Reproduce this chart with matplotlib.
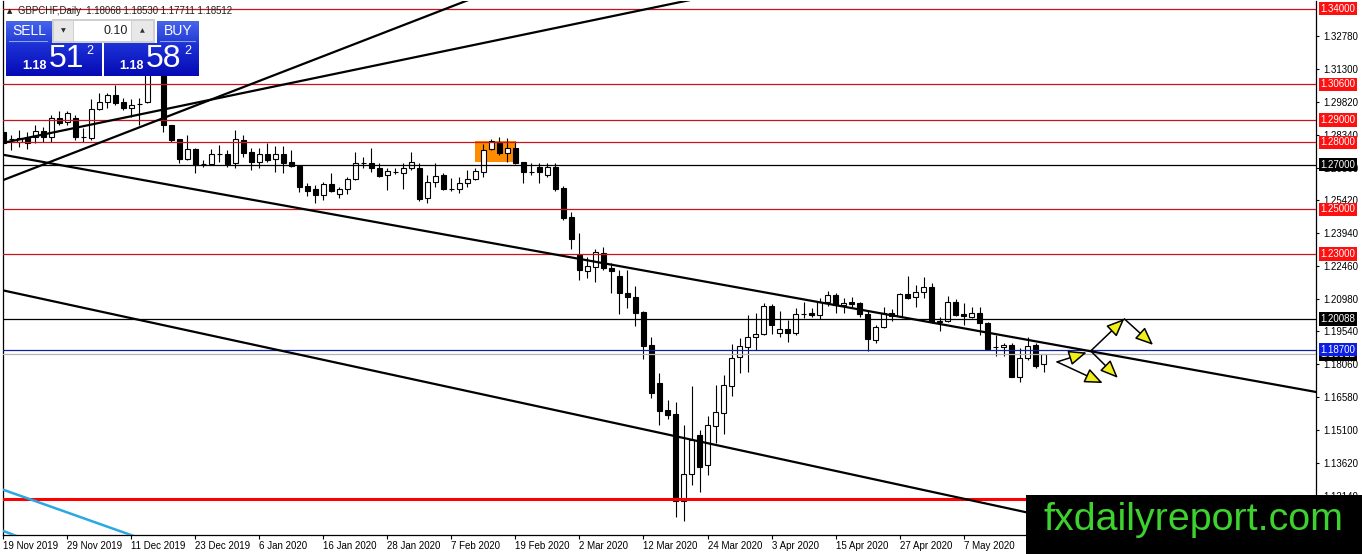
import matplotlib
matplotlib.use('Agg')
import matplotlib.pyplot as plt
import numpy as np
from matplotlib.patches import Rectangle, FancyArrowPatch

plt.rcParams['font.family'] = ['Liberation Sans', 'DejaVu Sans']

# ---------------- data ----------------
opens = [1.2847, 1.2817, 1.2802, 1.2820, 1.2824, 1.2851, 1.2824, 1.2910, 1.2892, 1.2910,
         1.2826, 1.2820, 1.2950, 1.2981, 1.3013, 1.2981, 1.2955, 1.2972, 1.2981, 1.3170,
         1.3130, 1.2878, 1.2815, 1.2726, 1.2771, 1.2702, 1.2703, 1.2746, 1.2748, 1.2708,
         1.2811, 1.2757, 1.2712, 1.2748, 1.2726, 1.2748, 1.2712, 1.2694, 1.2605, 1.2591,
         1.2564, 1.2614, 1.2569, 1.2591, 1.2636, 1.2706, 1.2708, 1.2685, 1.2654, 1.2668,
         1.2663, 1.2685, 1.2685, 1.2551, 1.2623, 1.2654, 1.2590, 1.2591, 1.2618, 1.2636,
         1.2668, 1.2771, 1.2798, 1.2753, 1.2775, 1.2712, 1.2669, 1.2690, 1.2654, 1.2690,
         1.2596, 1.2466, 1.2295, 1.2224, 1.2242, 1.2304, 1.2237, 1.2201, 1.2125, 1.2107,
         1.2040, 1.1892, 1.1721, 1.1600, 1.1582, 1.1192, 1.1313, 1.1488, 1.1354, 1.1529,
         1.1587, 1.1708, 1.1838, 1.1883, 1.1928, 1.1941, 1.2067, 1.1946, 1.1963, 1.1946,
         1.2030, 1.2035, 1.2026, 1.2085, 1.2116, 1.2071, 1.2085, 1.2080, 1.2031, 1.1914,
         1.1972, 1.2035, 1.2022, 1.2120, 1.2107, 1.2129, 1.2152, 1.1997, 1.1999, 1.2085,
         1.2031, 1.2017, 1.2035, 1.1990, 1.1882, 1.1883, 1.1892, 1.1748, 1.1833, 1.1892,
         1.18068]
highs = [1.2869, 1.2833, 1.2856, 1.2847, 1.2878, 1.2869, 1.2923, 1.2941, 1.2941, 1.2923,
         1.2865, 1.2995, 1.3022, 1.3022, 1.3058, 1.2999, 1.2995, 1.2999, 1.3205, 1.3215,
         1.3150, 1.2880, 1.2817, 1.2833, 1.2773, 1.2721, 1.2771, 1.2789, 1.2766, 1.2856,
         1.2833, 1.2775, 1.2775, 1.2798, 1.2784, 1.2784, 1.2766, 1.2696, 1.2618, 1.2609,
         1.2623, 1.2663, 1.2600, 1.2645, 1.2757, 1.2735, 1.2775, 1.2708, 1.2685, 1.2685,
         1.2708, 1.2757, 1.2708, 1.2654, 1.2708, 1.2663, 1.2641, 1.2645, 1.2677, 1.2685,
         1.2793, 1.2815, 1.2824, 1.2820, 1.2807, 1.2714, 1.2708, 1.2708, 1.2708, 1.2708,
         1.2605, 1.2488, 1.2394, 1.2286, 1.2322, 1.2331, 1.2259, 1.2228, 1.2228, 1.2156,
         1.2044, 1.1928, 1.1766, 1.1645, 1.1636, 1.1533, 1.1708, 1.1511, 1.1573, 1.1712,
         1.1757, 1.1896, 1.1923, 1.2026, 1.2035, 1.2080, 1.2076, 1.2044, 1.2004, 1.2058,
         1.2085, 1.2058, 1.2103, 1.2134, 1.2125, 1.2103, 1.2107, 1.2085, 1.2049, 1.1981,
         1.2062, 1.2053, 1.2125, 1.2201, 1.2161, 1.2197, 1.2170, 1.2017, 1.2111, 1.2098,
         1.2080, 1.2062, 1.2062, 1.1995, 1.1937, 1.1901, 1.1901, 1.1878, 1.1928, 1.1901,
         1.18530]
lows = [1.2789, 1.2766, 1.2780, 1.2771, 1.2798, 1.2802, 1.2802, 1.2878, 1.2878, 1.2811,
        1.2802, 1.2811, 1.2946, 1.2955, 1.2968, 1.2946, 1.2914, 1.2878, 1.2975, 1.3110,
        1.2847, 1.2802, 1.2708, 1.2721, 1.2663, 1.2690, 1.2699, 1.2712, 1.2690, 1.2685,
        1.2735, 1.2677, 1.2685, 1.2712, 1.2668, 1.2663, 1.2690, 1.2578, 1.2560, 1.2529,
        1.2542, 1.2578, 1.2551, 1.2569, 1.2632, 1.2685, 1.2668, 1.2645, 1.2587, 1.2659,
        1.2591, 1.2677, 1.2538, 1.2529, 1.2600, 1.2587, 1.2582, 1.2573, 1.2600, 1.2632,
        1.2645, 1.2766, 1.2744, 1.2712, 1.2703, 1.2618, 1.2654, 1.2618, 1.2645, 1.2582,
        1.2452, 1.2322, 1.2183, 1.2192, 1.2174, 1.2228, 1.2125, 1.2031, 1.2058, 1.1977,
        1.1829, 1.1654, 1.1533, 1.1560, 1.1121, 1.1103, 1.1264, 1.1233, 1.1309, 1.1452,
        1.1493, 1.1663, 1.1766, 1.1771, 1.1869, 1.1938, 1.1941, 1.1928, 1.1905, 1.1937,
        1.2013, 1.2017, 1.2008, 1.2067, 1.2035, 1.2035, 1.2062, 1.2017, 1.1865, 1.1901,
        1.1968, 1.1999, 1.2017, 1.2098, 1.2062, 1.2103, 1.1990, 1.1955, 1.1995, 1.2022,
        1.1981, 1.2013, 1.1937, 1.1869, 1.1842, 1.1842, 1.1748, 1.1726, 1.1825, 1.1789,
        1.17711]
closes = [1.2798, 1.2815, 1.2820, 1.2798, 1.2851, 1.2824, 1.2910, 1.2887, 1.2932, 1.2824,
          1.2824, 1.2950, 1.2981, 1.3013, 1.2977, 1.2955, 1.2968, 1.2973, 1.3160, 1.3135,
          1.2878, 1.2811, 1.2726, 1.2771, 1.2699, 1.2704, 1.2748, 1.2748, 1.2703, 1.2815,
          1.2753, 1.2712, 1.2748, 1.2721, 1.2748, 1.2708, 1.2694, 1.2600, 1.2582, 1.2564,
          1.2614, 1.2582, 1.2591, 1.2636, 1.2708, 1.2708, 1.2685, 1.2650, 1.2672, 1.2667,
          1.2685, 1.2712, 1.2546, 1.2623, 1.2650, 1.2591, 1.2591, 1.2618, 1.2636, 1.2672,
          1.2766, 1.2807, 1.2753, 1.2775, 1.2708, 1.2668, 1.2668, 1.2668, 1.2690, 1.2591,
          1.2461, 1.2367, 1.2228, 1.2246, 1.2309, 1.2237, 1.2224, 1.2125, 1.2107, 1.2035,
          1.1887, 1.1677, 1.1596, 1.1578, 1.1192, 1.1313, 1.1466, 1.1345, 1.1533, 1.1591,
          1.1712, 1.1833, 1.1887, 1.1928, 1.1941, 1.2067, 1.1981, 1.1963, 1.1946, 1.2031,
          1.2031, 1.2026, 1.2085, 1.2116, 1.2071, 1.2080, 1.2076, 1.2031, 1.1919, 1.1972,
          1.2035, 1.2022, 1.2120, 1.2103, 1.2129, 1.2152, 1.1995, 1.1999, 1.2085, 1.2026,
          1.2022, 1.2035, 1.1990, 1.1874, 1.1883, 1.1892, 1.1748, 1.1833, 1.1887, 1.1798,
          1.18512]

date_tick_bars = [0, 8, 16, 24, 32, 40, 48, 56, 64, 72, 80, 88, 96, 104, 112, 120]
date_tick_labels = ['19 Nov 2019', '29 Nov 2019', '11 Dec 2019', '23 Dec 2019', '6 Jan 2020',
                    '16 Jan 2020', '28 Jan 2020', '7 Feb 2020', '19 Feb 2020', '2 Mar 2020',
                    '12 Mar 2020', '24 Mar 2020', '3 Apr 2020', '15 Apr 2020', '27 Apr 2020',
                    '7 May 2020']
price_ticks = [1.12140, 1.13620, 1.15100, 1.16580, 1.18060, 1.19540, 1.20980, 1.22460,
               1.23940, 1.25420, 1.26860, 1.28340, 1.29820, 1.31300, 1.32780]

red_levels = [1.34000, 1.30600, 1.29000, 1.28000, 1.25000, 1.23000]
black_levels = [1.27000, 1.20088]
blue_level = 1.18700
bid_level = 1.18512
support_level = 1.12000

# trendlines: (bar x pair, price pair)
trend_steep = ([-1, 60], [1.2618, 1.3465])
trend_rise = ([-1, 86], [1.2791, 1.3440])
channel_upper = ([-1, 165], [1.2751, 1.1675])
channel_lower = ([-1, 140], [1.2144, 1.1047])
cyan_line1 = ([-1, 17], [1.1255, 1.1026])
cyan_line2 = ([-1, 1.5], [1.1071, 1.1037])

box_bars = [58.9, 63.9]
box_prices = [1.2712, 1.2806]

# arrows (start bar, start price, end bar, end price)
arrow_paths = [
    (131.7, 1.1816, 135.4, 1.1858),
    (131.7, 1.1816, 137.4, 1.1721),
    (135.9, 1.1865, 140.1, 1.2009),
    (140.1, 1.2009, 143.7, 1.1892),
    (135.9, 1.1865, 139.3, 1.1744),
]

header = 'GBPCHF,Daily  1.18068 1.18530 1.17711 1.18512'

# ---------------- figure ----------------
W, H = 1362, 554
fig = plt.figure(figsize=(W / 100, H / 100), dpi=100)
fig.patch.set_facecolor('white')
ax = fig.add_axes([3 / W, (H - 535) / H, 1313 / W, 534 / H])
ax.set_facecolor('white')
ax.set_xlim(-0.06, 164.06)
ax.set_ylim(1.10397, 1.34343)

# orange box
ax.add_patch(Rectangle((box_bars[0], box_prices[0]), box_bars[1] - box_bars[0],
                       box_prices[1] - box_prices[0], fc='#ff8c00', ec='none', zorder=1))

# candles
n = len(opens)
xs = np.arange(n)
o = np.array(opens); h = np.array(highs); l = np.array(lows); c = np.array(closes)
ax.vlines(xs, l, h, color='black', lw=0.8, zorder=2)
up = c >= o
bottoms = np.minimum(o, c)
heights = np.maximum(np.abs(c - o), 0.00002)
ax.bar(xs[up], heights[up], bottom=bottoms[up], width=0.6, color='white',
       edgecolor='black', linewidth=0.8, zorder=2.5)
ax.bar(xs[~up], heights[~up], bottom=bottoms[~up], width=0.6, color='black',
       edgecolor='black', linewidth=0.8, zorder=2.5)

# horizontal levels
for lv in red_levels:
    ax.axhline(lv, color='#c8141e', lw=0.9, zorder=3)
for lv in black_levels:
    ax.axhline(lv, color='black', lw=0.9, zorder=3)
ax.axhline(bid_level, color='#b4b4b4', lw=0.9, zorder=3)
ax.axhline(blue_level, color='#1020a0', lw=0.9, zorder=3)
ax.axhline(support_level, color='#ff0000', lw=2.2, zorder=3)

# trendlines
for tl in [trend_steep, trend_rise, channel_upper, channel_lower]:
    ax.plot(tl[0], tl[1], color='black', lw=1.6, zorder=3.5, solid_capstyle='butt')
for tl in [cyan_line1, cyan_line2]:
    ax.plot(tl[0], tl[1], color='#2aa8e2', lw=1.8, zorder=3.5)

# arrows
for (x0, y0, x1, y1) in arrow_paths:
    ar = FancyArrowPatch((x0, y0), (x1, y1), arrowstyle='-|>,head_length=1.0,head_width=0.42',
                         mutation_scale=11, fc='#f2ee1a', ec='black', lw=1.1,
                         shrinkA=0, shrinkB=0, zorder=4)
    ax.add_patch(ar)

# axes styling
ax.spines['top'].set_visible(False)
for s in ['left', 'bottom', 'right']:
    ax.spines[s].set_color('black')
    ax.spines[s].set_linewidth(0.9)
ax.yaxis.tick_right()
ax.set_yticks(price_ticks)
ax.set_yticklabels([f'{t:.5f}' for t in price_ticks])
ax.tick_params(axis='y', length=2.5, width=0.8, pad=2.5, labelsize=7, colors='black')
ax.set_xticks(date_tick_bars)
ax.set_xticklabels(date_tick_labels)
for lbl in ax.get_xticklabels():
    lbl.set_ha('left')
ax.tick_params(axis='x', length=3, width=0.8, pad=1.2, labelsize=7, colors='black')


def level_label(price, text, fc):
    ax.annotate(text, xy=(1, price), xycoords=('axes fraction', 'data'), xytext=(3.0, 0),
                textcoords='offset points', ha='left', va='center', fontsize=7, color='white',
                bbox=dict(boxstyle='square,pad=0.17', fc=fc, ec='none'),
                annotation_clip=False, zorder=6)


for lv in red_levels:
    level_label(lv, f'{lv:.5f}', '#ff1010')
for lv in black_levels:
    level_label(lv, f'{lv:.5f}', 'black')
level_label(bid_level, f'{bid_level:.5f}', 'black')
level_label(blue_level, f'{blue_level:.5f}', '#0a1ee6')


# ---------------- overlays in pixel coordinates ----------------
def px_rect(x0, y0, x1, y1, **kw):
    fig.add_artist(Rectangle((x0 / W, 1 - y1 / H), (x1 - x0) / W, (y1 - y0) / H,
                             transform=fig.transFigure, **kw))


def px_text(x, y, s, **kw):
    fig.text(x / W, 1 - y / H, s, **kw)


def gradient(x0, y0, x1, y1, top, bottom):
    hh, ww = y1 - y0, x1 - x0
    t = np.linspace(0, 1, hh)[:, None, None]
    top = np.array(top) / 255.0
    bottom = np.array(bottom) / 255.0
    arr = top[None, None, :] * (1 - t) + bottom[None, None, :] * t
    arr = np.repeat(arr, ww, axis=1)
    fig.figimage(arr, xo=x0, yo=H - y1, origin='upper', zorder=8)


# header
px_text(7, 11, '\u25b2', fontsize=5, color='#202020', va='center', ha='left',
        family=['DejaVu Sans'], zorder=9)
px_text(18, 11, header, fontsize=6.9, color='#202020', va='center', ha='left', zorder=9)

# sell / buy panel
gradient(6, 21, 52, 43, (70, 100, 235), (35, 60, 215))
gradient(6, 43, 102, 76, (30, 50, 215), (5, 10, 180))
gradient(157, 21, 199, 43, (70, 100, 235), (35, 60, 215))
gradient(104, 43, 199, 76, (30, 50, 215), (5, 10, 180))
px_rect(9, 41, 48, 42, fc='#8ea0f0', ec='none', zorder=8.5)
px_rect(160, 41, 196, 42, fc='#8ea0f0', ec='none', zorder=8.5)
# lot control
px_rect(52, 19, 155, 43, fc='#d0d0d0', ec='none', zorder=8)
px_rect(54, 21, 73, 41, fc='#e8e8e8', ec='none', zorder=8.2)
px_rect(74, 21, 131, 41, fc='white', ec='none', zorder=8.2)
px_rect(132, 21, 153, 41, fc='#e8e8e8', ec='none', zorder=8.2)
px_text(63.5, 31, '\u25bc', fontsize=4.5, color='#303030', ha='center', va='center',
        family=['DejaVu Sans'], zorder=9)
px_text(142.5, 31, '\u25b2', fontsize=4.5, color='#303030', ha='center', va='center',
        family=['DejaVu Sans'], zorder=9)
px_text(128, 31, '0.10', fontsize=9, color='#202020', ha='right', va='center', zorder=9)
px_text(29, 31, 'SELL', fontsize=10, color='white', ha='center', va='center', zorder=9)
px_text(178, 31, 'BUY', fontsize=10, color='white', ha='center', va='center', zorder=9)
# prices
px_text(22, 66, '1.18', fontsize=9, fontweight='bold', color='white', ha='left',
        va='center', zorder=9)
px_text(49, 59, '51', fontsize=23, color='white', ha='left', va='center', zorder=9)
px_text(86, 51, '2', fontsize=9, color='white', ha='left', va='center', zorder=9)
px_text(119, 66, '1.18', fontsize=9, fontweight='bold', color='white', ha='left',
        va='center', zorder=9)
px_text(146, 59, '58', fontsize=23, color='white', ha='left', va='center', zorder=9)
px_text(184, 51, '2', fontsize=9, color='white', ha='left', va='center', zorder=9)

# watermark
px_rect(1026, 495, 1362, 554, fc='black', ec='none', zorder=10)
px_text(1193, 520, 'fxdailyreport.com', fontsize=28.4, color='#3ed22e', ha='center',
        va='center', zorder=11)

fig.savefig('out.png', dpi=100, facecolor='white')
